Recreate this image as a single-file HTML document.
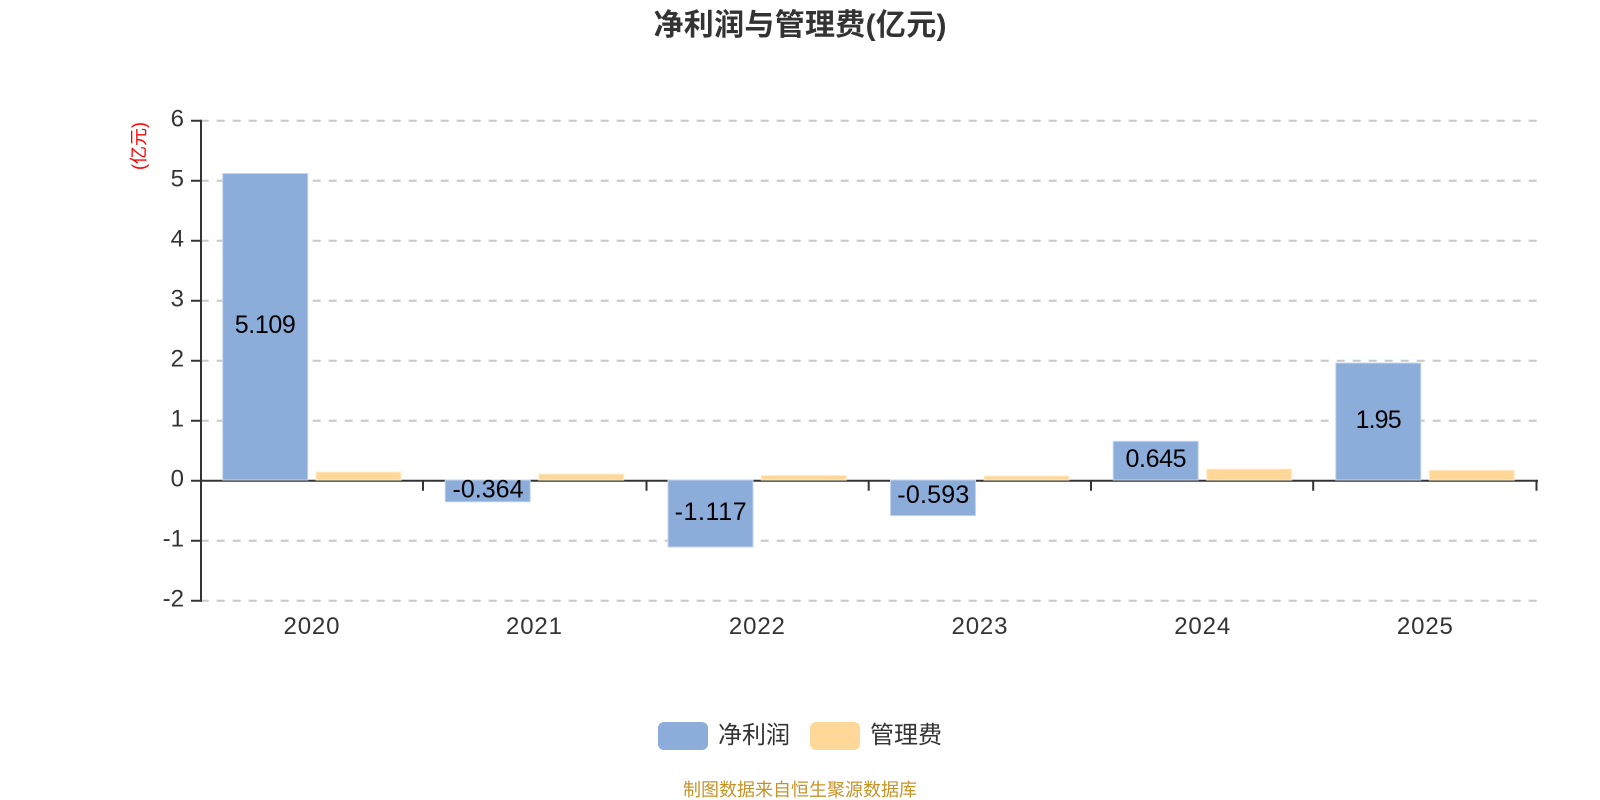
<!DOCTYPE html>
<html lang="zh">
<head>
<meta charset="utf-8">
<title>净利润与管理费(亿元)</title>
<style>
html,body{margin:0;padding:0;background:#fff;width:1600px;height:800px;overflow:hidden}
svg{display:block}
text{font-family:"Liberation Sans","Noto Sans CJK SC",sans-serif}
.ax{font-size:24px;fill:#333}
.lb{font-size:25px;fill:#000;text-anchor:middle}
.b{fill:#8cacda;stroke:#c5d5ec;stroke-width:1}
.o{fill:#ffd899;stroke:#ffeccb;stroke-width:1}
</style>
</head>
<body>
<svg width="1600" height="800" viewBox="0 0 1600 800" xmlns="http://www.w3.org/2000/svg">
<rect width="1600" height="800" fill="#fff"/>
<text x="800" y="35" text-anchor="middle" font-size="30" font-weight="bold" fill="#333" textLength="293">净利润与管理费(亿元)</text>
<text transform="translate(145,146) rotate(-90)" text-anchor="middle" font-size="18" fill="#f00">(亿元)</text>

<g stroke="#c8c8c8" stroke-width="2" stroke-dasharray="8 8" fill="none">
<path d="M200.7 120.7H1537"/><path d="M200.7 180.7H1537"/><path d="M200.7 240.7H1537"/><path d="M200.7 300.7H1537"/><path d="M200.7 360.7H1537"/><path d="M200.7 420.7H1537"/><path d="M200.7 540.7H1537"/><path d="M200.7 600.7H1537"/>
</g>

<g stroke="#333" stroke-width="2" fill="none">
<path d="M201 119.7V601.7"/>
<path d="M191 120.7H201M191 180.7H201M191 240.7H201M191 300.7H201M191 360.7H201M191 420.7H201M191 480.7H201M191 540.7H201M191 600.7H201"/>
<path d="M200 480.7H1538"/>
<path d="M423 480.7V490.7M646.5 480.7V490.7M868.7 480.7V490.7M1091 480.7V490.7M1313.2 480.7V490.7M1536.5 480.7V490.7"/>
</g>

<rect class="b" x="222.7" y="173.5" width="85" height="306.5"/>
<rect class="o" x="316" y="472" width="85" height="8"/>
<rect class="b" x="445.2" y="480" width="85" height="21.8"/>
<rect class="o" x="538.7" y="474" width="85" height="6"/>
<rect class="b" x="668" y="480" width="85" height="67"/>
<rect class="o" x="761.3" y="475.5" width="85" height="4.5"/>
<rect class="b" x="890.5" y="480" width="85" height="35.6"/>
<rect class="o" x="984" y="476" width="85" height="4"/>
<rect class="b" x="1113.2" y="441.3" width="85" height="38.7"/>
<rect class="o" x="1206.7" y="469" width="85" height="11"/>
<rect class="b" x="1335.8" y="363" width="85" height="117"/>
<rect class="o" x="1429.3" y="470.3" width="85" height="9.7"/>

<text class="lb" x="265.3" y="333" textLength="61">5.109</text>
<text class="lb" x="488" y="497.5" textLength="71">-0.364</text>
<text class="lb" x="710.6" y="520" textLength="72">-1.117</text>
<text class="lb" x="933.3" y="503" textLength="72">-0.593</text>
<text class="lb" x="1156" y="467" textLength="61">0.645</text>
<text class="lb" x="1378.6" y="428" textLength="46">1.95</text>

<g text-anchor="end">
<text class="ax" x="184" y="126.5">6</text>
<text class="ax" x="184" y="186.5">5</text>
<text class="ax" x="184" y="246.5">4</text>
<text class="ax" x="184" y="306.5">3</text>
<text class="ax" x="184" y="366.5">2</text>
<text class="ax" x="184" y="426.5">1</text>
<text class="ax" x="184" y="486.5">0</text>
<text class="ax" x="184" y="546.5">-1</text>
<text class="ax" x="184" y="606.5">-2</text>
</g>
<g text-anchor="middle">
<text class="ax" x="311.5" y="634" textLength="56">2020</text>
<text class="ax" x="534" y="634" textLength="56">2021</text>
<text class="ax" x="756.9" y="634" textLength="56">2022</text>
<text class="ax" x="979.5" y="634" textLength="56">2023</text>
<text class="ax" x="1202.2" y="634" textLength="56">2024</text>
<text class="ax" x="1424.9" y="634" textLength="56">2025</text>
</g>

<rect x="658" y="722" width="50" height="28" rx="6" fill="#8cacda"/>
<text class="ax" x="718" y="743">净利润</text>
<rect x="810" y="722" width="50" height="28" rx="6" fill="#ffd899"/>
<text class="ax" x="870" y="743">管理费</text>

<text x="800" y="796" text-anchor="middle" font-size="18" fill="#c79327">制图数据来自恒生聚源数据库</text>
</svg>
</body>
</html>
